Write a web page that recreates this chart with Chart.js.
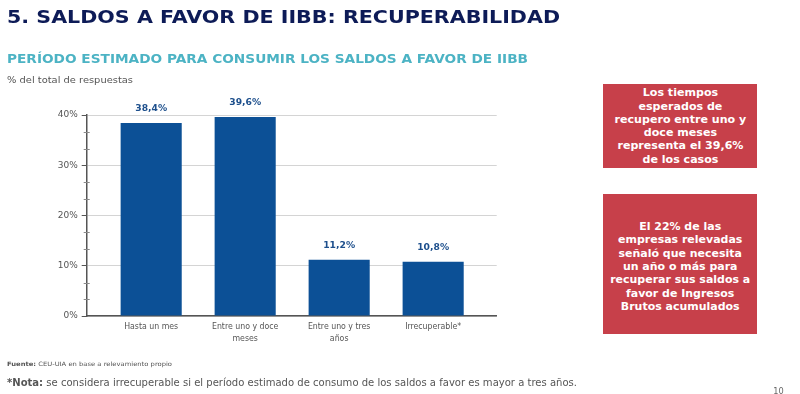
<!DOCTYPE html>
<html><head><meta charset="utf-8">
<script src="https://cdn.jsdelivr.net/npm/chart.js@4.4.0/dist/chart.umd.min.js"></script>
<style>
html,body{margin:0;padding:0;background:#fff;width:800px;height:394px;overflow:hidden;font-family:"DejaVu Sans",sans-serif;}
#wrap{position:relative;width:800px;height:394px;}
#c{position:absolute;left:0;top:0;}
.t{position:absolute;white-space:nowrap;line-height:1;transform-origin:left center;}
.box{position:absolute;left:603.3px;width:153.4px;background:#c7404a;color:#fff;font-weight:bold;font-size:11px;line-height:13.3px;text-align:center;display:flex;align-items:center;justify-content:center;box-sizing:border-box;}
.box span{display:inline-block;white-space:nowrap;transform-origin:center center;}
</style></head>
<body><div id="wrap">
<canvas id="c" width="800" height="394"></canvas>
<div class="t" id="title" data-w="553" style="left:7.3px;top:7.9px;font-size:18.3px;font-weight:bold;color:#0d1b57;">5. SALDOS A FAVOR DE IIBB: RECUPERABILIDAD</div>
<div class="t" data-w="521" style="left:7px;top:52.5px;font-size:12.8px;font-weight:bold;color:#4cb3c4;">PERÍODO ESTIMADO PARA CONSUMIR LOS SALDOS A FAVOR DE IIBB</div>
<div class="t" data-w="126" style="left:7px;top:74.6px;font-size:9.2px;color:#555;">% del total de respuestas</div>
<div class="box" style="top:84px;height:84.3px;"><span data-w="131.7">Los tiempos<br>esperados de<br>recupero entre uno y<br>doce meses<br>representa el 39,6%<br>de los casos</span></div>
<div class="box" style="top:194.3px;height:140px;padding-top:4.8px;"><span data-w="140">El 22% de las<br>empresas relevadas<br>señaló que necesita<br>un año o más para<br>recuperar sus saldos a<br>favor de Ingresos<br>Brutos acumulados</span></div>
<div class="t" data-w="165" style="left:6.7px;top:361px;font-size:6px;color:#555;"><b>Fuente:</b> CEU-UIA en base a relevamiento propio</div>
<div class="t" data-w="570" style="left:7.3px;top:378.2px;font-size:10px;color:#555;"><b>*Nota:</b> se considera irrecuperable si el período estimado de consumo de los saldos a favor es mayor a tres años.</div>
<div class="t" style="left:773.3px;top:386.8px;font-size:8.2px;color:#666;">10</div>
</div>
<script>
const categories = [["Hasta un mes"], ["Entre uno y doce", "meses"], ["Entre uno y tres", "años"], ["Irrecuperable*"]];
const values = [38.4, 39.6, 11.2, 10.8];
const yTickValues = [0, 10, 20, 30, 40];

document.querySelectorAll('[data-w]').forEach(el => {
  const w = el.getBoundingClientRect().width;
  const t = +el.dataset.w;
  if (w > 0) el.style.transform = 'scaleX(' + (t / w) + ')';
});

const fmt = v => v.toFixed(1).replace('.', ',') + '%';

const minorTicks = {
  id: 'minorTicks',
  afterDraw(chart) {
    const y = chart.scales.y, ctx = chart.ctx, x0 = chart.chartArea.left;
    ctx.save();
    ctx.strokeStyle = '#8a8a8a';
    ctx.lineWidth = 1;
    for (let k = 1; k < 12; k++) {
      if (k % 3 === 0) continue;
      const py = Math.round(y.getPixelForValue(k * 10 / 3)) + 0.5;
      ctx.beginPath(); ctx.moveTo(x0 - 3, py); ctx.lineTo(x0 + 3, py); ctx.stroke();
    }
    ctx.restore();
  }
};

const valueLabels = {
  id: 'valueLabels',
  afterDatasetsDraw(chart) {
    const ctx = chart.ctx, meta = chart.getDatasetMeta(0);
    ctx.save();
    ctx.font = 'bold 9.2px "DejaVu Sans"';
    ctx.fillStyle = '#1d4f8c';
    ctx.textAlign = 'center';
    ctx.textBaseline = 'middle';
    meta.data.forEach((bar, i) => ctx.fillText(fmt(values[i]), bar.x, bar.y - 14));
    ctx.restore();
  }
};

new Chart(document.getElementById('c'), {
  type: 'bar',
  data: {
    datasets: [{
      data: values.map((v, i) => ({ x: i, y: v })),
      backgroundColor: '#0c5096',
      borderWidth: 0,
      barPercentage: 0.65,
      categoryPercentage: 1
    }]
  },
  options: {
    responsive: false,
    animation: false,
    devicePixelRatio: 1,
    layout: { padding: { left: 0, right: 303.3, top: 115, bottom: 38 } },
    plugins: { legend: { display: false }, tooltip: { enabled: false } },
    scales: {
      x: {
        type: 'linear', min: -0.686, max: 3.676, offset: false,
        grid: { display: false, drawTicks: false },
        border: { color: '#555', width: 1.5 },
        afterBuildTicks: s => { s.ticks = categories.map((c, i) => ({ value: i })); },
        ticks: {
          callback: v => categories[v],
          font: { family: 'DejaVu Sans Condensed', size: 8.7, lineHeight: 1.36 },
          color: '#555', padding: 5, maxRotation: 0, autoSkip: false
        },
        afterFit: s => { s.height = 40; }
      },
      y: {
        min: 0, max: 40,
        afterBuildTicks: s => { s.ticks = yTickValues.map(v => ({ value: v })); },
        ticks: { callback: v => v + '%', font: { family: 'DejaVu Sans', size: 9 }, color: '#555', padding: 4 },
        grid: { color: '#d4d4d4', tickColor: '#555', tickLength: 5, lineWidth: 1 },
        border: { color: '#555', width: 1.5 },
        afterFit: s => { s.width = 86.7; }
      }
    }
  },
  plugins: [minorTicks, valueLabels]
});
</script>
</body></html>
